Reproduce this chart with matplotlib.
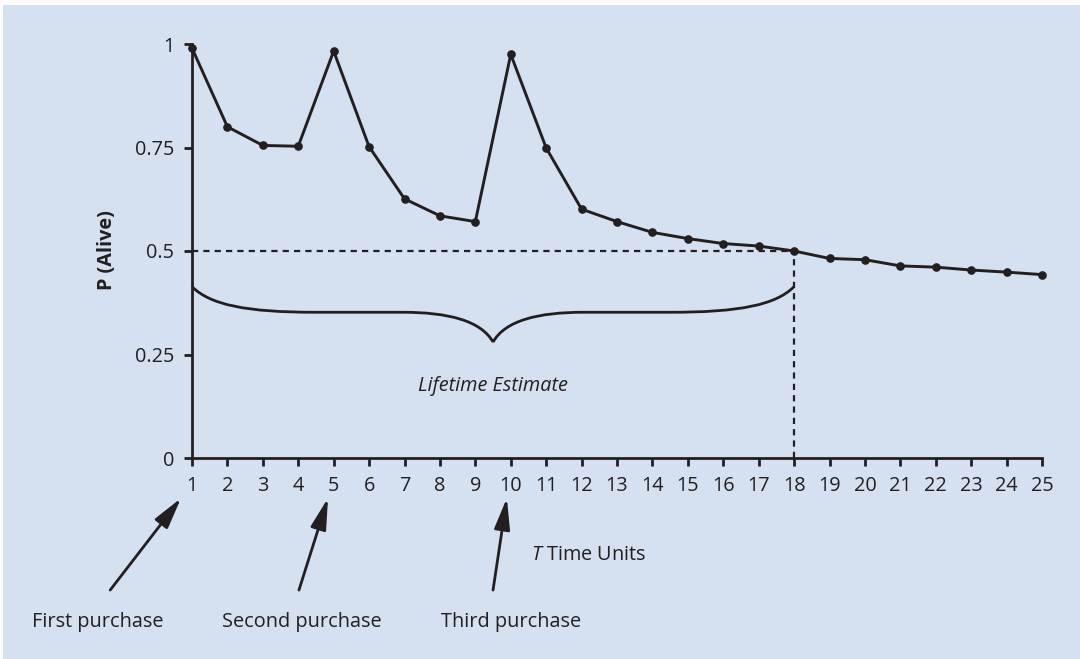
import numpy as np
import matplotlib
matplotlib.use("Agg")
import matplotlib.pyplot as plt
from matplotlib.path import Path
from matplotlib.patches import PathPatch, Rectangle

# ---- data ----
periods = list(range(1, 26))
p_alive = [0.99, 0.80, 0.755, 0.753, 0.983, 0.752, 0.626, 0.585, 0.571, 0.975,
           0.749, 0.601, 0.571, 0.545, 0.530, 0.518, 0.512, 0.500, 0.482, 0.479,
           0.464, 0.461, 0.454, 0.449, 0.443]
y_ticks = [0, 0.25, 0.5, 0.75, 1]
y_tick_labels = ["0", "0.25", "0.5", "0.75", "1"]
purchase_times = [1, 5, 10]
purchase_labels = ["First purchase", "Second purchase", "Third purchase"]
threshold = 0.5
lifetime_end = 18

FONT = "Open Sans"
INK = "#231f20"
BG = "#d5e0f1"
FS = 14.3

plt.rcParams["font.family"] = [FONT, "DejaVu Sans"]
plt.rcParams["mathtext.fontset"] = "custom"
plt.rcParams["mathtext.it"] = "Open Sans:italic"
plt.rcParams["mathtext.rm"] = "Open Sans"

fig = plt.figure(figsize=(10.8, 6.59), dpi=100, facecolor="white")
fig.patches.append(Rectangle((3 / 1080, 0), 1, 1 - 5 / 659, transform=fig.transFigure,
                             facecolor=BG, edgecolor="none", zorder=-10))
ax = fig.add_axes([192 / 1080, 1 - 458 / 659, 850 / 1080, 414 / 659])
ax.set_facecolor("none")

ax.plot(periods, p_alive, color=INK, lw=2.1, marker="o", ms=5.2, clip_on=False, zorder=5)

# threshold dashed guides
ax.plot([periods[0], lifetime_end], [threshold, threshold], color=INK, lw=1.6,
        dashes=(2.8, 2.3), clip_on=False)
ax.plot([lifetime_end, lifetime_end], [0, threshold], color=INK, lw=1.6,
        dashes=(2.8, 2.3), clip_on=False)

# curly brace
def brace(x0, x1, y_end, y_flat, y_tip):
    hw = (x1 - x0) / 2.0
    xm = x0 + hw
    def half(sign, xs):
        a = xs
        b = xs + sign * 0.41 * hw
        c = xs + sign * 0.70 * hw
        verts = [(a, y_end), (a + sign * 0.06 * hw, y_flat + 0.018), (a + sign * 0.18 * hw, y_flat),
                 (b, y_flat), (c, y_flat),
                 (c, y_flat), (xm - sign * 0.15 * hw, y_flat), (xm - sign * 0.04 * hw, y_flat - 0.02), (xm, y_tip)]
        codes = [Path.MOVETO, Path.CURVE4, Path.CURVE4, Path.CURVE4, Path.LINETO,
                 Path.MOVETO, Path.CURVE4, Path.CURVE4, Path.CURVE4]
        return verts, codes
    v1, c1 = half(1, x0)
    v2, c2 = half(-1, x1)
    return Path(v1 + v2, c1 + c2)

bp = brace(periods[0], lifetime_end, 0.414, 0.352, 0.280)
ax.add_patch(PathPatch(bp, facecolor="none", edgecolor=INK, lw=2.0, clip_on=False))
ax.text((periods[0] + lifetime_end) / 2, 0.174, "Lifetime Estimate", style="italic",
        ha="center", va="center", fontsize=FS, color=INK)

# axes styling
ax.set_xlim(1, 25)
ax.set_ylim(0, 1)
for s in ["top", "right"]:
    ax.spines[s].set_visible(False)
for s in ["left", "bottom"]:
    ax.spines[s].set_linewidth(2.0)
    ax.spines[s].set_color(INK)
ax.set_xticks(periods)
ax.set_xticklabels([str(p) for p in periods])
ax.set_yticks(y_ticks)
ax.set_yticklabels(y_tick_labels)
ax.tick_params(axis="both", direction="out", length=5.8, width=2.0, color=INK,
               labelsize=FS, labelcolor=INK)
ax.tick_params(axis="y", pad=7.0)
ax.tick_params(axis="x", pad=7.5)

fig.text(107 / 1080, 1 - 250 / 659, "P (Alive)", rotation=90, ha="center", va="center",
         fontsize=FS, fontweight="bold", color=INK)

ax.text(12.2, -0.234, "$T$ Time Units", ha="center", va="center", fontsize=FS, color=INK,
        clip_on=False)

# purchase arrows
tip_dx = [-0.31, -0.16, -0.11]
tail_dx = [-2.31, -0.98, -0.5]
label_dx = [-2.65, -0.9, 0.0]
for t, lab, tdx, ldx, lbx in zip(purchase_times, purchase_labels, tip_dx, tail_dx, label_dx):
    ax.annotate("", xy=(t + tdx, -0.097), xytext=(t + ldx, -0.319),
                arrowprops=dict(arrowstyle="-|>,head_length=0.95,head_width=0.24",
                                mutation_scale=20, lw=2.0, color=INK,
                                shrinkA=0, shrinkB=0),
                annotation_clip=False)
    ax.text(t + lbx, -0.396, lab, ha="center", va="center", fontsize=FS, color=INK,
            clip_on=False)

fig.savefig("out.png", dpi=100, facecolor=fig.get_facecolor())
